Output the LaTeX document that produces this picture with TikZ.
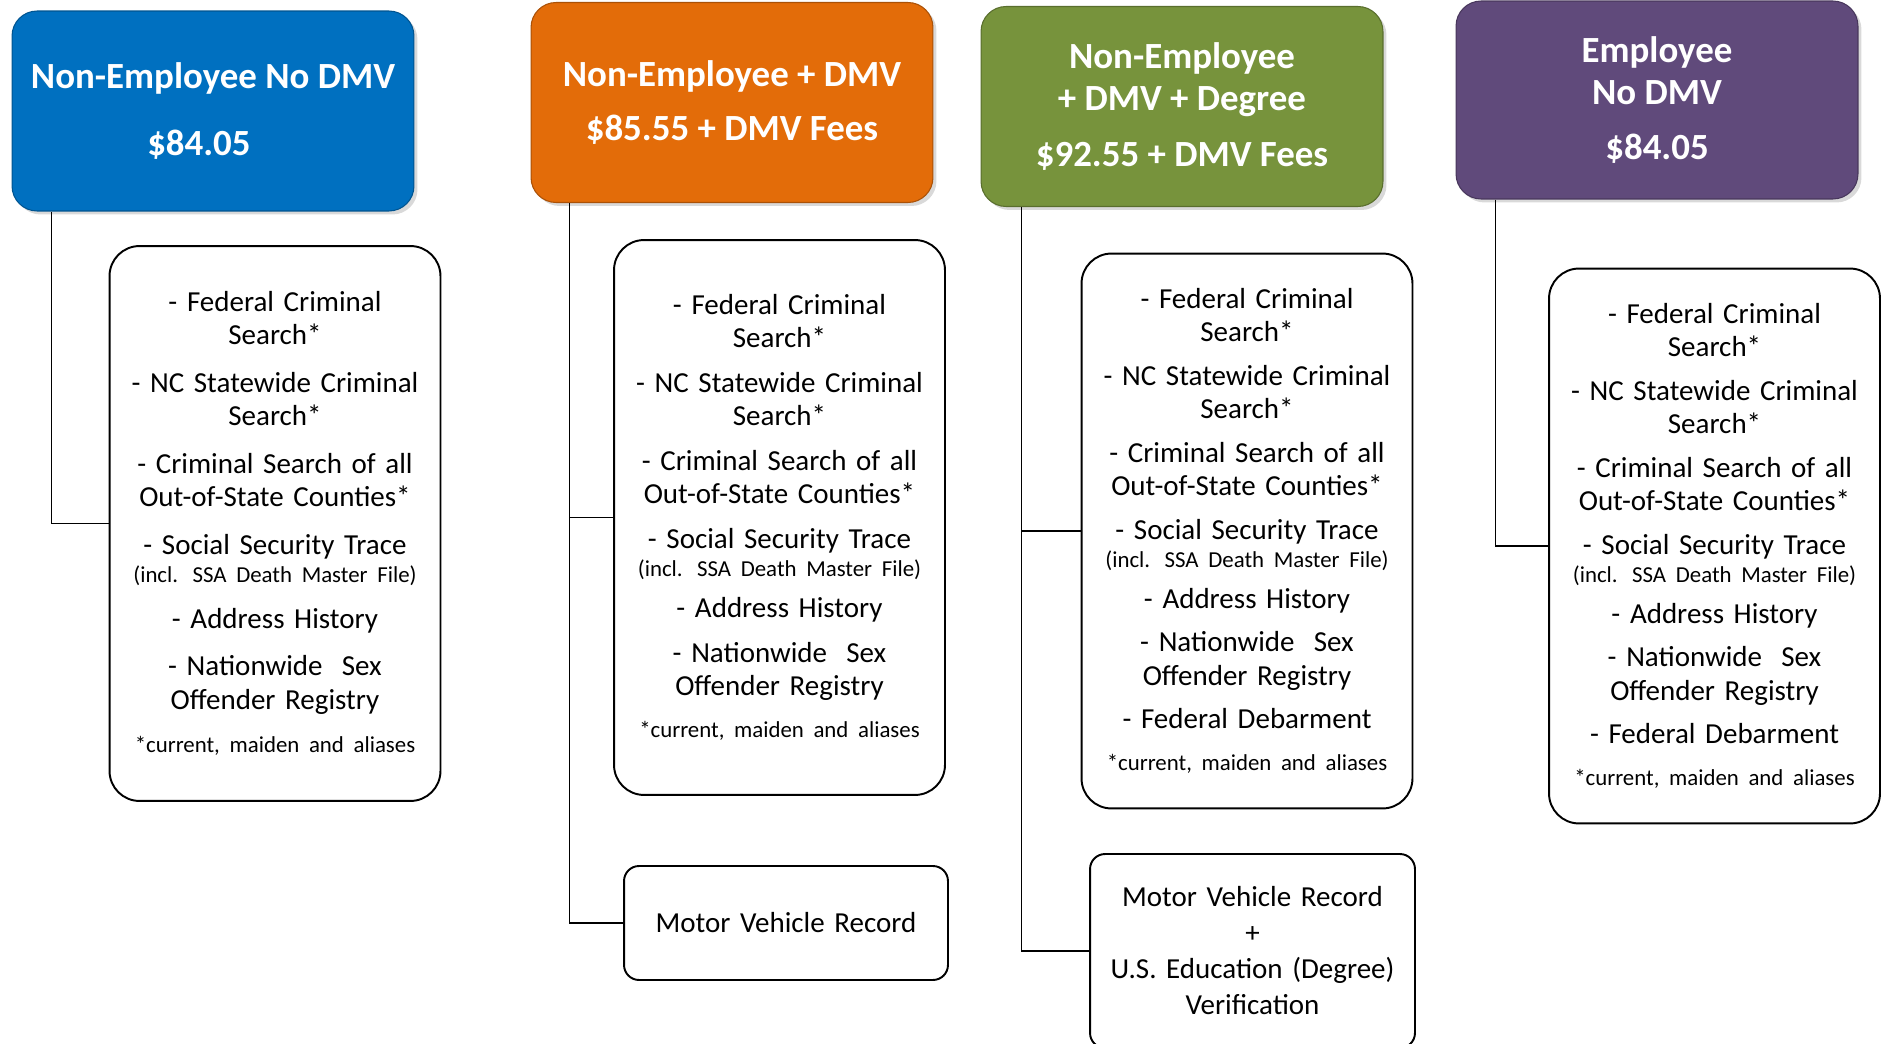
\documentclass[tikz,border=0pt]{standalone}
\usepackage{fontspec}
\setmainfont{Carlito}
\usetikzlibrary{positioning, shadows}
\definecolor{hdrblue}{HTML}{0070C0}
\definecolor{hdrorange}{HTML}{E36C09}
\definecolor{hdrgreen}{HTML}{77933C}
\definecolor{hdrpurple}{HTML}{604A7B}
\newcommand{\smalltext}[1]{{\fontsize{13}{15}\selectfont #1}}

\begin{document}
\begin{tikzpicture}[x=0.02cm, y=-0.02cm,
	header/.style={rectangle, rounded corners=0.5cm, draw=#1!75!black, line width=0.6pt, fill=#1, text=white, minimum width=8.04cm, minimum height=4cm, align=center, font=\bfseries\fontsize{21}{24}\selectfont, drop shadow={shadow xshift=2pt, shadow yshift=-2pt, opacity=0.3}},
	checks/.style={rectangle, rounded corners=0.6cm, draw, line width=1.1pt, minimum width=6.62cm, minimum height=11.1cm, text width=6.2cm, align=center, font=\fontsize{16.5}{19}\selectfont},
	extra/.style={rectangle, rounded corners=0.3cm, draw, line width=1.1pt, minimum width=6.48cm, text width=6.2cm, align=center, font=\fontsize{16.5}{19}\selectfont},
	link/.style={line width=1.1pt}
]
\useasboundingbox (0,0) rectangle (1883,1044);

\node[header=hdrblue] (header_nodmv) at (213,111) {Non-Employee No DMV\\[14pt]\$84.05\hspace*{16pt}};
\node[header=hdrorange] (header_dmv) at (732,102.5) {Non-Employee + DMV\\[7pt]\$85.55 + DMV Fees};
\node[header=hdrgreen] (header_degree) at (1182,106.5) {Non-Employee\\+ DMV + Degree\\[8pt]\$92.55 + DMV Fees};
\node[header=hdrpurple, minimum height=3.96cm] (header_employee) at (1657,100) {Employee\\No DMV\\[7pt]\$84.05};

\node[checks] (list_nodmv) at (275,523.5) {- Federal Criminal\\Search*\\[8pt]- NC Statewide Criminal\\Search*\\[8pt]- Criminal Search of all\\Out-of-State Counties*\\[8pt]- Social Security Trace\\[-2.6pt]\smalltext{(incl. SSA Death Master File)}\\[7pt]- Address History\\[8pt]- Nationwide\ \ Sex\\Offender Registry\\[5.6pt]\smalltext{*current, maiden and aliases}};
\node[checks] (list_dmv) at (779.5,517.5) {- Federal Criminal\\Search*\\[6.3pt]- NC Statewide Criminal\\Search*\\[6.3pt]- Criminal Search of all\\Out-of-State Counties*\\[6.3pt]- Social Security Trace\\[-2.6pt]\smalltext{(incl. SSA Death Master File)}\\[4.2pt]- Address History\\[6.3pt]- Nationwide\ \ Sex\\Offender Registry\\[5pt]\smalltext{*current, maiden and aliases}};
\node[checks] (list_degree) at (1247,531) {- Federal Criminal\\Search*\\[5.8pt]- NC Statewide Criminal\\Search*\\[5.8pt]- Criminal Search of all\\Out-of-State Counties*\\[5.8pt]- Social Security Trace\\[-2.6pt]\smalltext{(incl. SSA Death Master File)}\\[4pt]- Address History\\[5.8pt]- Nationwide\ \ Sex\\Offender Registry\\[5.8pt]- Federal Debarment\\[5pt]\smalltext{*current, maiden and aliases}};
\node[checks] (list_employee) at (1714.5,546) {- Federal Criminal\\Search*\\[5.8pt]- NC Statewide Criminal\\Search*\\[5.8pt]- Criminal Search of all\\Out-of-State Counties*\\[5.8pt]- Social Security Trace\\[-2.6pt]\smalltext{(incl. SSA Death Master File)}\\[4pt]- Address History\\[5.8pt]- Nationwide\ \ Sex\\Offender Registry\\[5.8pt]- Federal Debarment\\[5pt]\smalltext{*current, maiden and aliases}};

\node[extra, minimum height=2.28cm] (extra_dmv) at (786,923) {Motor Vehicle Record};
\node[extra, minimum width=6.5cm, minimum height=3.88cm] (extra_degree) at (1252.5,951) {Motor Vehicle Record\\[1.5pt]+\\[1.5pt]U.S. Education (Degree)\\[1.5pt]Verification};

\draw[link] ([xshift=0.8cm]header_nodmv.south west) |- (list_nodmv.west);
\draw[link] ([xshift=0.78cm]header_dmv.south west) |- (list_dmv.west);
\draw[link] ([xshift=0.78cm]header_dmv.south west) |- (extra_dmv.west);
\draw[link] ([xshift=0.82cm]header_degree.south west) |- (list_degree.west);
\draw[link] ([xshift=0.82cm]header_degree.south west) |- (extra_degree.west);
\draw[link] ([xshift=0.8cm]header_employee.south west) |- (list_employee.west);

\end{tikzpicture}
\end{document}
